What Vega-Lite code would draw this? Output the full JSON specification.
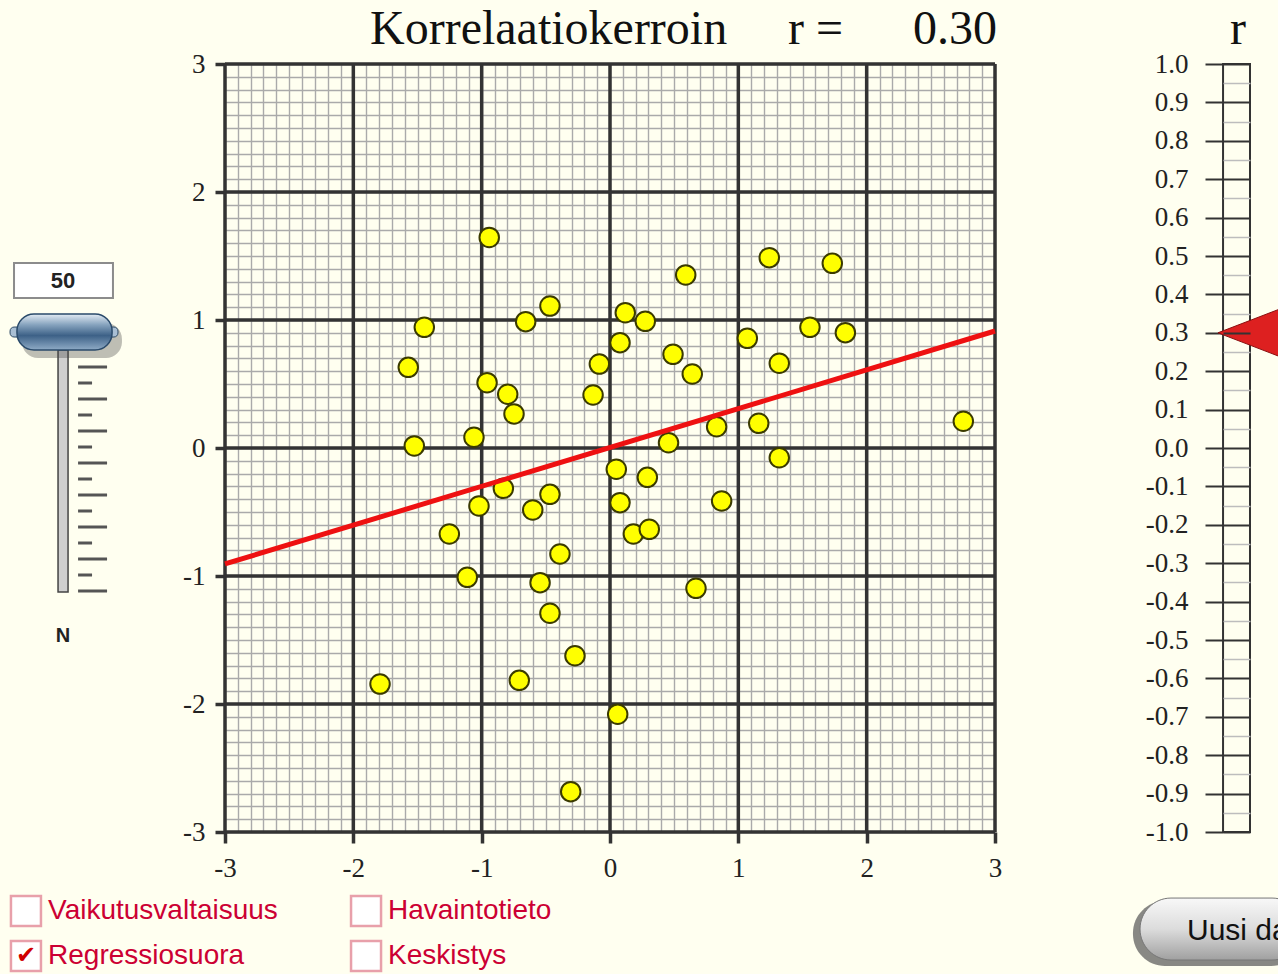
{
  "$schema": "https://vega.github.io/schema/vega-lite/v6.json",
  "width": 770,
  "height": 768,
  "autosize": {"type": "none"},
  "padding": {"left": 225, "top": 64, "right": 283, "bottom": 142},
  "background": "#FFFFF0",
  "config": {"view": {"stroke": null}},
  "data": {"values": [{}]},
  "datasets": {
    "points": [
      {"x": -0.941, "y": 1.645}, {"x": 0.590, "y": 1.352}, {"x": 1.241, "y": 1.487}, {"x": 1.732, "y": 1.443},
      {"x": -0.468, "y": 1.109}, {"x": 0.119, "y": 1.057}, {"x": 0.275, "y": 0.990}, {"x": -0.657, "y": 0.987},
      {"x": -1.447, "y": 0.943}, {"x": 1.558, "y": 0.943}, {"x": 1.834, "y": 0.901}, {"x": 0.078, "y": 0.823},
      {"x": 1.070, "y": 0.857}, {"x": 0.491, "y": 0.732}, {"x": -1.572, "y": 0.630}, {"x": -0.083, "y": 0.656},
      {"x": 1.319, "y": 0.662}, {"x": 0.641, "y": 0.578}, {"x": -0.958, "y": 0.510}, {"x": -0.797, "y": 0.420},
      {"x": -0.132, "y": 0.414}, {"x": -0.748, "y": 0.266}, {"x": 2.753, "y": 0.209}, {"x": 1.159, "y": 0.193},
      {"x": 0.831, "y": 0.166}, {"x": -1.060, "y": 0.084}, {"x": -1.525, "y": 0.016}, {"x": 0.456, "y": 0.041},
      {"x": 1.319, "y": -0.076}, {"x": 0.049, "y": -0.166}, {"x": 0.291, "y": -0.229}, {"x": -0.831, "y": -0.315},
      {"x": -0.468, "y": -0.362}, {"x": 0.078, "y": -0.427}, {"x": 0.870, "y": -0.414}, {"x": -1.021, "y": -0.453},
      {"x": -0.602, "y": -0.484}, {"x": 0.182, "y": -0.672}, {"x": 0.306, "y": -0.635}, {"x": -1.252, "y": -0.672},
      {"x": -0.390, "y": -0.828}, {"x": -1.112, "y": -1.010}, {"x": -0.545, "y": -1.052}, {"x": 0.670, "y": -1.096},
      {"x": -0.468, "y": -1.291}, {"x": -0.273, "y": -1.623}, {"x": -1.792, "y": -1.844}, {"x": -0.707, "y": -1.815},
      {"x": 0.060, "y": -2.080}, {"x": -0.306, "y": -2.685}
    ],
    "major": [{"v": -3}, {"v": -2}, {"v": -1}, {"v": 0}, {"v": 1}, {"v": 2}, {"v": 3}],
    "regression": [{"x": -3, "y": -0.906}, {"x": 3, "y": 0.914}],
    "sliderLong": [{"t": 0.6328}, {"t": 0.3828}, {"t": 0.1328}, {"t": -0.1172}, {"t": -0.3672}, {"t": -0.6172}, {"t": -0.8672}, {"t": -1.1172}],
    "sliderShort": [{"t": 0.5078}, {"t": 0.2578}, {"t": 0.0078}, {"t": -0.2422}, {"t": -0.4922}, {"t": -0.7422}, {"t": -0.9922}]
  },
  "layer": [
    {
      "data": {"name": "major"},
      "mark": {"type": "rule", "stroke": "#333333", "strokeWidth": 3.5},
      "encoding": {
        "x": {
          "field": "v", "type": "quantitative",
          "scale": {"domain": [-3, 3], "nice": false, "zero": false},
          "axis": {
            "orient": "bottom",
            "title": null,
            "values": [-3,-2.9,-2.8,-2.7,-2.6,-2.5,-2.4,-2.3,-2.2,-2.1,-2,-1.9,-1.8,-1.7,-1.6,-1.5,-1.4,-1.3,-1.2,-1.1,-1,-0.9,-0.8,-0.7,-0.6,-0.5,-0.4,-0.3,-0.2,-0.1,0,0.1,0.2,0.3,0.4,0.5,0.6,0.7,0.8,0.9,1,1.1,1.2,1.3,1.4,1.5,1.6,1.7,1.8,1.9,2,2.1,2.2,2.3,2.4,2.5,2.6,2.7,2.8,2.9,3],
            "grid": true, "gridColor": "#aaaaaa", "gridWidth": 1.4,
            "domain": false,
            "tickSize": 11, "tickWidth": 3.5, "tickColor": "#333333",
            "tickOpacity": {"condition": {"test": "datum.value % 1 === 0", "value": 1}, "value": 0},
            "labelExpr": "datum.value % 1 === 0 ? '' + datum.value : ''",
            "labelFont": "Liberation Serif", "labelFontSize": 27, "labelColor": "#222222",
            "labelPadding": 12, "labelOverlap": false, "labelBound": false, "labelFlush": false
          }
        }
      }
    },
    {
      "data": {"name": "major"},
      "mark": {"type": "rule", "stroke": "#333333", "strokeWidth": 3.5},
      "encoding": {
        "y": {
          "field": "v", "type": "quantitative",
          "scale": {"domain": [-3, 3], "nice": false, "zero": false},
          "axis": {
            "orient": "left",
            "title": null,
            "values": [-3,-2.9,-2.8,-2.7,-2.6,-2.5,-2.4,-2.3,-2.2,-2.1,-2,-1.9,-1.8,-1.7,-1.6,-1.5,-1.4,-1.3,-1.2,-1.1,-1,-0.9,-0.8,-0.7,-0.6,-0.5,-0.4,-0.3,-0.2,-0.1,0,0.1,0.2,0.3,0.4,0.5,0.6,0.7,0.8,0.9,1,1.1,1.2,1.3,1.4,1.5,1.6,1.7,1.8,1.9,2,2.1,2.2,2.3,2.4,2.5,2.6,2.7,2.8,2.9,3],
            "grid": true, "gridColor": "#aaaaaa", "gridWidth": 1.4,
            "domain": false,
            "tickSize": 10, "tickWidth": 3.5, "tickColor": "#333333",
            "tickOpacity": {"condition": {"test": "datum.value % 1 === 0", "value": 1}, "value": 0},
            "labelExpr": "datum.value % 1 === 0 ? '' + datum.value : ''",
            "labelFont": "Liberation Serif", "labelFontSize": 27, "labelColor": "#222222",
            "labelPadding": 10, "labelOverlap": false, "labelBound": false, "labelFlush": false
          }
        }
      }
    },
    {
      "data": {"name": "points"},
      "mark": {"type": "point", "shape": "circle", "filled": true, "fill": "#FFFF00", "stroke": "#3b3b00", "strokeWidth": 2, "size": 380, "opacity": 1},
      "encoding": {
        "x": {"field": "x", "type": "quantitative", "scale": {"domain": [-3, 3], "nice": false, "zero": false}, "axis": null},
        "y": {"field": "y", "type": "quantitative", "scale": {"domain": [-3, 3], "nice": false, "zero": false}, "axis": null}
      }
    },
    {
      "data": {"name": "regression"},
      "mark": {"type": "line", "stroke": "#EE1111", "strokeWidth": 5},
      "encoding": {
        "x": {"field": "x", "type": "quantitative", "axis": null},
        "y": {"field": "y", "type": "quantitative", "axis": null}
      }
    },
    {
      "mark": {"type": "text", "text": "Korrelaatiokerroin", "font": "Liberation Serif", "fontSize": 48, "align": "left", "baseline": "alphabetic", "color": "#111111"},
      "encoding": {"x": {"datum": -1.870, "axis": null}, "y": {"datum": 3.156, "axis": null}}
    },
    {
      "mark": {"type": "text", "text": "r =", "font": "Liberation Serif", "fontSize": 48, "align": "left", "baseline": "alphabetic", "color": "#111111"},
      "encoding": {"x": {"datum": 1.387, "axis": null}, "y": {"datum": 3.156, "axis": null}}
    },
    {
      "mark": {"type": "text", "text": "0.30", "font": "Liberation Serif", "fontSize": 48, "align": "right", "baseline": "alphabetic", "color": "#111111"},
      "encoding": {"x": {"datum": 3.016, "axis": null}, "y": {"datum": 3.156, "axis": null}}
    },
    {
      "mark": {"type": "text", "text": "r", "font": "Liberation Serif", "fontSize": 48, "align": "center", "baseline": "alphabetic", "color": "#111111"},
      "encoding": {"x": {"datum": 4.893, "axis": null}, "y": {"datum": 3.156, "axis": null}}
    },
    {
      "mark": {"type": "point", "shape": "square", "size": 900, "filled": true, "fill": "#FFFFFF", "stroke": "#E8A0AA", "strokeWidth": 2.5, "opacity": 1},
      "encoding": {"x": {"datum": -4.551, "axis": null}, "y": {"datum": -3.617, "axis": null}}
    },
    {
      "mark": {"type": "point", "shape": "square", "size": 900, "filled": true, "fill": "#FFFFFF", "stroke": "#E8A0AA", "strokeWidth": 2.5, "opacity": 1},
      "encoding": {"x": {"datum": -4.551, "axis": null}, "y": {"datum": -3.969, "axis": null}}
    },
    {
      "mark": {"type": "point", "shape": "square", "size": 900, "filled": true, "fill": "#FFFFFF", "stroke": "#E8A0AA", "strokeWidth": 2.5, "opacity": 1},
      "encoding": {"x": {"datum": -1.901, "axis": null}, "y": {"datum": -3.617, "axis": null}}
    },
    {
      "mark": {"type": "point", "shape": "square", "size": 900, "filled": true, "fill": "#FFFFFF", "stroke": "#E8A0AA", "strokeWidth": 2.5, "opacity": 1},
      "encoding": {"x": {"datum": -1.901, "axis": null}, "y": {"datum": -3.969, "axis": null}}
    },
    {
      "mark": {"type": "text", "text": "✔", "font": "DejaVu Sans", "fontSize": 24, "align": "center", "baseline": "middle", "color": "#D00000"},
      "encoding": {"x": {"datum": -4.551, "axis": null}, "y": {"datum": -3.969, "axis": null}}
    },
    {
      "mark": {"type": "text", "text": "Vaikutusvaltaisuus", "font": "Liberation Sans", "fontSize": 28, "align": "left", "baseline": "middle", "color": "#CC0033"},
      "encoding": {"x": {"datum": -4.379, "axis": null}, "y": {"datum": -3.617, "axis": null}}
    },
    {
      "mark": {"type": "text", "text": "Regressiosuora", "font": "Liberation Sans", "fontSize": 28, "align": "left", "baseline": "middle", "color": "#CC0033"},
      "encoding": {"x": {"datum": -4.379, "axis": null}, "y": {"datum": -3.969, "axis": null}}
    },
    {
      "mark": {"type": "text", "text": "Havaintotieto", "font": "Liberation Sans", "fontSize": 28, "align": "left", "baseline": "middle", "color": "#CC0033"},
      "encoding": {"x": {"datum": -1.730, "axis": null}, "y": {"datum": -3.617, "axis": null}}
    },
    {
      "mark": {"type": "text", "text": "Keskistys", "font": "Liberation Sans", "fontSize": 28, "align": "left", "baseline": "middle", "color": "#CC0033"},
      "encoding": {"x": {"datum": -1.730, "axis": null}, "y": {"datum": -3.969, "axis": null}}
    },
    {
      "mark": {"type": "rect", "fill": "#FFFFFF", "stroke": "#8C8C8C", "strokeWidth": 2},
      "encoding": {"x": {"datum": -4.644, "axis": null}, "x2": {"datum": -3.873}, "y": {"datum": 1.445, "axis": null}, "y2": {"datum": 1.172}}
    },
    {
      "mark": {"type": "text", "text": "50", "font": "Liberation Sans", "fontWeight": "bold", "fontSize": 22, "align": "center", "baseline": "middle", "color": "#222222"},
      "encoding": {"x": {"datum": -4.262, "axis": null}, "y": {"datum": 1.305, "axis": null}}
    },
    {
      "mark": {"type": "rect", "fill": "#CFCFCF", "stroke": "#444444", "strokeWidth": 1.5},
      "encoding": {"x": {"datum": -4.301, "axis": null}, "x2": {"datum": -4.223}, "y": {"datum": 0.766, "axis": null}, "y2": {"datum": -1.125}}
    },
    {
      "data": {"name": "sliderLong"},
      "mark": {"type": "rule", "stroke": "#555555", "strokeWidth": 3},
      "encoding": {"x": {"datum": -4.145, "axis": null}, "x2": {"datum": -3.919}, "y": {"field": "t", "type": "quantitative", "axis": null}}
    },
    {
      "data": {"name": "sliderShort"},
      "mark": {"type": "rule", "stroke": "#555555", "strokeWidth": 3},
      "encoding": {"x": {"datum": -4.145, "axis": null}, "x2": {"datum": -4.036}, "y": {"field": "t", "type": "quantitative", "axis": null}}
    },
    {
      "mark": {"type": "rect", "fill": "#444444", "opacity": 0.35, "cornerRadius": 16},
      "encoding": {"x": {"datum": -4.582, "axis": null}, "x2": {"datum": -3.803}, "y": {"datum": 0.977, "axis": null}, "y2": {"datum": 0.703}}
    },
    {
      "mark": {"type": "rect", "fill": "#A9BFD4", "stroke": "#2D4A66", "strokeWidth": 1, "cornerRadius": 4},
      "encoding": {"x": {"datum": -4.675, "axis": null}, "x2": {"datum": -3.834}, "y": {"datum": 0.945, "axis": null}, "y2": {"datum": 0.867}}
    },
    {
      "mark": {"type": "rect", "stroke": "#2A4A6A", "strokeWidth": 1.5, "cornerRadius": 17,
        "fill": {"gradient": "linear", "x1": 0, "y1": 0, "x2": 0, "y2": 1, "stops": [
          {"offset": 0, "color": "#E4ECF4"}, {"offset": 0.3, "color": "#86A3BE"}, {"offset": 0.6, "color": "#3D6187"}, {"offset": 1, "color": "#8FABC6"}]}},
      "encoding": {"x": {"datum": -4.621, "axis": null}, "x2": {"datum": -3.880}, "y": {"datum": 1.047, "axis": null}, "y2": {"datum": 0.766}}
    },
    {
      "mark": {"type": "text", "text": "N", "font": "Liberation Sans", "fontWeight": "bold", "fontSize": 20, "align": "center", "baseline": "middle", "color": "#222222"},
      "encoding": {"x": {"datum": -4.262, "axis": null}, "y": {"datum": -1.469, "axis": null}}
    },
    {
      "mark": {"type": "rect", "fill": "#555555", "opacity": 0.7, "cornerRadius": 32},
      "encoding": {"x": {"datum": 4.075, "axis": null}, "x2": {"datum": 5.40}, "y": {"datum": -3.539, "axis": null}, "y2": {"datum": -4.047}}
    },
    {
      "mark": {"type": "rect", "stroke": "#777777", "strokeWidth": 1, "cornerRadius": 32,
        "fill": {"gradient": "linear", "x1": 0, "y1": 0, "x2": 0, "y2": 1, "stops": [
          {"offset": 0, "color": "#F8F8F8"}, {"offset": 0.5, "color": "#DCDCDC"}, {"offset": 1, "color": "#A0A0A0"}]}},
      "encoding": {"x": {"datum": 4.130, "axis": null}, "x2": {"datum": 5.40}, "y": {"datum": -3.516, "axis": null}, "y2": {"datum": -4.0}}
    },
    {
      "mark": {"type": "text", "text": "Uusi data", "font": "Liberation Sans", "fontSize": 30, "align": "left", "baseline": "alphabetic", "color": "#111111"},
      "encoding": {"x": {"datum": 4.496, "axis": null}, "y": {"datum": -3.844, "axis": null}}
    },
    {
      "mark": {"type": "rect", "fillOpacity": 0, "fill": "#FFFFF0", "stroke": "#333333", "strokeWidth": 2},
      "encoding": {
        "x": {"datum": 4.777, "axis": null},
        "x2": {"datum": 4.987},
        "y": {
          "datum": -3,
          "axis": {
            "orient": "left", "offset": -998, "title": null,
            "values": [-3,-2.7,-2.4,-2.1,-1.8,-1.5,-1.2,-0.9,-0.6,-0.3,0,0.3,0.6,0.9,1.2,1.5,1.8,2.1,2.4,2.7,3],
            "grid": false, "domain": false,
            "tickSize": 18, "tickWidth": 2, "tickColor": "#333333",
            "labelExpr": "replace(format(datum.value / 3, '.1f'), '\u2212', '-')",
            "labelFont": "Liberation Serif", "labelFontSize": 27, "labelColor": "#222222",
            "labelPadding": 17, "labelOverlap": false, "labelBound": false, "labelFlush": false
          }
        },
        "y2": {"datum": 3}
      }
    },
    {
      "mark": {"type": "point", "shape": "M -1 0 L 1 -0.77 L 1 0.77 Z", "size": 6400, "filled": true, "fill": "#DD2020", "stroke": "#8A1010", "strokeWidth": 1, "opacity": 1},
      "encoding": {
        "x": {"datum": 5.049, "axis": null},
        "y": {
          "datum": 0.9,
          "axis": {
            "orient": "right", "offset": 228, "title": null, "zindex": 1,
            "values": [-3,-2.85,-2.7,-2.55,-2.4,-2.25,-2.1,-1.95,-1.8,-1.65,-1.5,-1.35,-1.2,-1.05,-0.9,-0.75,-0.6,-0.45,-0.3,-0.15,0,0.15,0.3,0.45,0.6,0.75,0.9,1.05,1.2,1.35,1.5,1.65,1.8,1.95,2.1,2.25,2.4,2.55,2.7,2.85,3],
            "grid": false, "domain": false, "labels": false,
            "tickSize": 27,
            "tickColor": {"condition": {"test": "abs(datum.value / 0.3 - round(datum.value / 0.3)) < 0.01", "value": "#333333"}, "value": "#BDBDBD"},
            "tickWidth": {"condition": {"test": "abs(datum.value / 0.3 - round(datum.value / 0.3)) < 0.01", "value": 2}, "value": 1.5}
          }
        }
      }
    }
  ],
  "resolve": {"axis": {"x": "independent", "y": "independent"}}
}
